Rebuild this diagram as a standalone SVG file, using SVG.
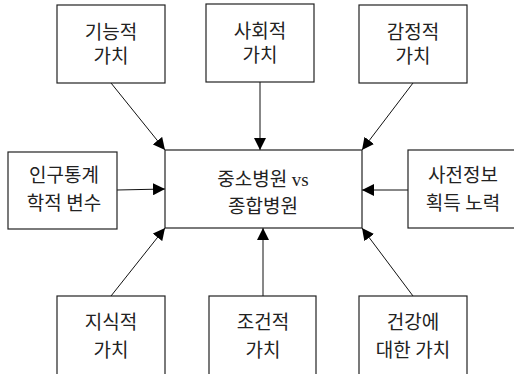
<svg xmlns="http://www.w3.org/2000/svg" width="514" height="374" viewBox="0 0 514 374">
<style>
.box{fill:#fff;stroke:#222;stroke-width:1.2}
.t{font-family:"Liberation Serif","Noto Sans CJK KR",serif;font-size:19px;fill:#222;text-anchor:middle}
.c{stroke:#111;stroke-width:1;fill:none;marker-end:url(#ah)}
</style>
<defs>
<marker id="ah" markerWidth="12" markerHeight="12" refX="12" refY="6" orient="auto" markerUnits="userSpaceOnUse">
<path d="M0,0 L12,6 L0,12 Z" fill="#000"/>
</marker>
</defs>
<rect width="514" height="374" fill="#fff"/>
<g id="connectors">
<line class="c" x1="111" y1="83" x2="165" y2="150"/>
<line class="c" x1="260" y1="82" x2="260" y2="150"/>
<line class="c" x1="413" y1="83" x2="362" y2="150"/>
<line class="c" x1="117" y1="190" x2="165" y2="189"/>
<line class="c" x1="408" y1="190" x2="362" y2="190"/>
<line class="c" x1="111" y1="296" x2="165" y2="228"/>
<line class="c" x1="263" y1="296" x2="263" y2="228"/>
<line class="c" x1="413" y1="296" x2="362" y2="228"/>
</g>
<g id="center"><rect class="box" x="165" y="150" width="197" height="78"/><text class="t" x="263" y="186">중소병원 vs</text><text class="t" x="263" y="213">종합병원</text></g>
<g id="n1"><rect class="box" x="57" y="5" width="108" height="78"/><text class="t" x="111" y="39">기능적</text><text class="t" x="111" y="63">가치</text></g>
<g id="n2"><rect class="box" x="206" y="4" width="108" height="78"/><text class="t" x="260" y="38">사회적</text><text class="t" x="260" y="62">가치</text></g>
<g id="n3"><rect class="box" x="359" y="5" width="108" height="78"/><text class="t" x="413" y="39">감정적</text><text class="t" x="413" y="63">가치</text></g>
<g id="n4"><rect class="box" x="8" y="152" width="109" height="77"/><text class="t" x="64" y="182">인구통계</text><text class="t" x="64" y="210">학적 변수</text></g>
<g id="n5"><rect class="box" x="408" y="150" width="112" height="78"/><text class="t" x="463" y="182">사전정보</text><text class="t" x="463" y="210">획득 노력</text></g>
<g id="n6"><rect class="box" x="57" y="296" width="108" height="84"/><text class="t" x="111" y="329">지식적</text><text class="t" x="111" y="357">가치</text></g>
<g id="n7"><rect class="box" x="209" y="296" width="107" height="84"/><text class="t" x="263" y="329">조건적</text><text class="t" x="263" y="357">가치</text></g>
<g id="n8"><rect class="box" x="359" y="296" width="108" height="84"/><text class="t" x="413" y="329">건강에</text><text class="t" x="413" y="357">대한 가치</text></g>
</svg>
